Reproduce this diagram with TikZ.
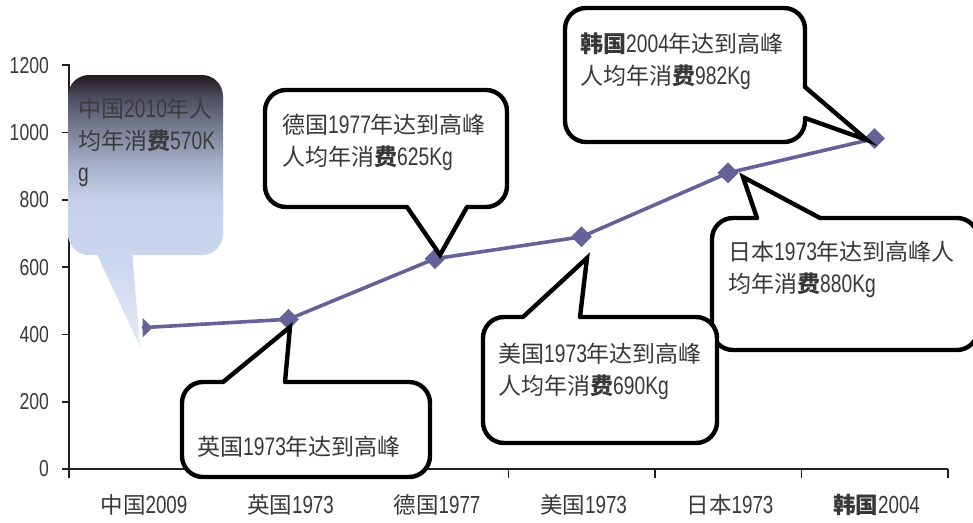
\documentclass[tikz,border=0pt]{standalone}
\usepackage{fontspec}
\setmainfont{Liberation Sans}[FakeStretch=0.76, Scale=1.1]
\newfontfamily\zhfont{Noto Sans CJK SC}
\usetikzlibrary{shapes.geometric}
\newcommand\zh[1]{{\zhfont #1}}
\newcommand\zb[1]{{\zhfont\bfseries #1}}
\definecolor{lineblue}{RGB}{99,99,153}
\definecolor{txt}{RGB}{56,56,56}
\definecolor{axisc}{RGB}{35,31,32}
\definecolor{cnA}{RGB}{228,234,247}
\definecolor{cnB}{RGB}{202,214,238}
\definecolor{cnC}{RGB}{197,209,235}
\definecolor{cnD}{RGB}{165,174,198}
\definecolor{cnE}{RGB}{118,124,144}
\definecolor{cnF}{RGB}{78,80,96}
\definecolor{cnG}{RGB}{34,24,30}
\pgfdeclareverticalshading{cnshade}{100bp}{color(0bp)=(cnA); color(25bp)=(cnA); color(41.9bp)=(cnB); color(52bp)=(cnC); color(59bp)=(cnD); color(65.5bp)=(cnE); color(70.8bp)=(cnF); color(75bp)=(cnG); color(100bp)=(cnG)}
\tikzset{
  axis/.style={draw=axisc, line width=1.8pt},
  dataline/.style={draw=lineblue, line width=3.6pt},
  pt/.style={diamond, fill=lineblue, inner sep=0pt, minimum size=21pt},
  bubble/.style={draw=black, fill=white, line width=4.4pt, rounded corners=21pt},
  tailside/.style={draw=black, line width=4.4pt, line join=miter, line cap=round},
  bubbletext/.style={anchor=base west, align=left, inner sep=0pt, text=txt, font=\fontsize{23}{32}\selectfont},
  ticklab/.style={inner sep=0pt, text=txt, font=\fontsize{21}{25}\selectfont},
  catlab/.style={ticklab, font=\fontsize{22.5}{25}\selectfont}
}
\begin{document}
\begin{tikzpicture}[x=1pt, y=-1pt]
\useasboundingbox (0,0) rectangle (973,522);
\draw[axis] (62,65) -- (69,65) -- (69,478);
\draw[axis] (69,469) -- (948,469);
\foreach \v [count=\k from 0] in {0,200,400,600,800,1000,1200} {
  \draw[axis] (62,{469-67.3*\k}) -- (69,{469-67.3*\k});
  \node[ticklab, anchor=east] (y\k) at (49,{469-67.3*\k}) {\v};
}
\foreach \k in {1,...,6} \draw[axis] ({69+146.5*\k},469) -- ({69+146.5*\k},478);
\foreach \t [count=\i from 0] in {\zh{中国}2009,\zh{英国}1973,\zh{德国}1977,\zh{美国}1973,\zh{日本}1973,\zb{韩国}2004}
  \node[catlab, anchor=base] (x\i) at ({144+146.5*\i},513) {\t};
\foreach \v [count=\i] in {420,445,625,690,880,982}
  \coordinate (p\i) at ({142+146.5*(\i-1)},{469-0.3365*\v});
\draw[dataline] (p1) -- (p2) -- (p3) -- (p4) -- (p5) -- (p6);
\begin{scope}
  \clip (142.5,300) rectangle (170,350);
  \node[pt] (m1) at (p1) {};
\end{scope}
\foreach \i in {2,...,6} \node[pt] (m\i) at (p\i) {};
\shade[shading=cnshade] [rounded corners=21pt] (68,75) rectangle (223,255) [sharp corners] (95,250) -- (140,347) -- (132,250) -- cycle;
\node[bubbletext, text={rgb,255:red,60;green,60;blue,64}] (cn) at (78,181) {\zh{中国}2010\zh{年人}\\\zh{均年消}\zb{费}570K\\g};
\draw[bubble] (182,382) rectangle (430,477);
\fill[white] (223,387) -- (223,382) -- (290,327) -- (285,382) -- (285,387) -- cycle;
\draw[tailside] (223,382) -- (290,327) -- (285,382);
\node[bubbletext] (uk) at (197,455) {\zh{英国}1973\zh{年达到高峰}};
\draw[bubble] (265,90) rectangle (507,207);
\fill[white] (407,202) -- (407,207) -- (440,255) -- (467,207) -- (467,202) -- cycle;
\draw[tailside] (407,207) -- (440,255) -- (467,207);
\node[bubbletext] (de) at (282,165) {\zh{德国}1977\zh{年达到高峰}\\\zh{人均年消}\zb{费}625Kg};
\draw[bubble] (712,218) rectangle (978,350);
\fill[white] (757,223) -- (757,218) -- (743,177) -- (820,218) -- (820,223) -- cycle;
\draw[tailside] (757,218) -- (743,177) -- (820,218);
\node[bubbletext] (jp) at (728,292) {\zh{日本}1973\zh{年达到高峰人}\\\zh{均年消}\zb{费}880Kg};
\draw[bubble] (483,317) rectangle (717,443);
\fill[white] (523,322) -- (523,317) -- (587,258) -- (580,317) -- (580,322) -- cycle;
\draw[tailside] (523,317) -- (587,258) -- (580,317);
\node[bubbletext] (us) at (498,394) {\zh{美国}1973\zh{年达到高峰}\\\zh{人均年消}\zb{费}690Kg};
\draw[bubble] (565,8) rectangle (805,142);
\fill[white] (800,87) -- (805,87) -- (867,140) -- (805,118) -- (800,118) -- cycle;
\draw[tailside] (805,87) -- (867,140) -- (805,118);
\node[bubbletext] (kr) at (580,84) {\zb{韩国}2004\zh{年达到高峰}\\\zh{人均年消}\zb{费}982Kg};
\end{tikzpicture}
\end{document}
